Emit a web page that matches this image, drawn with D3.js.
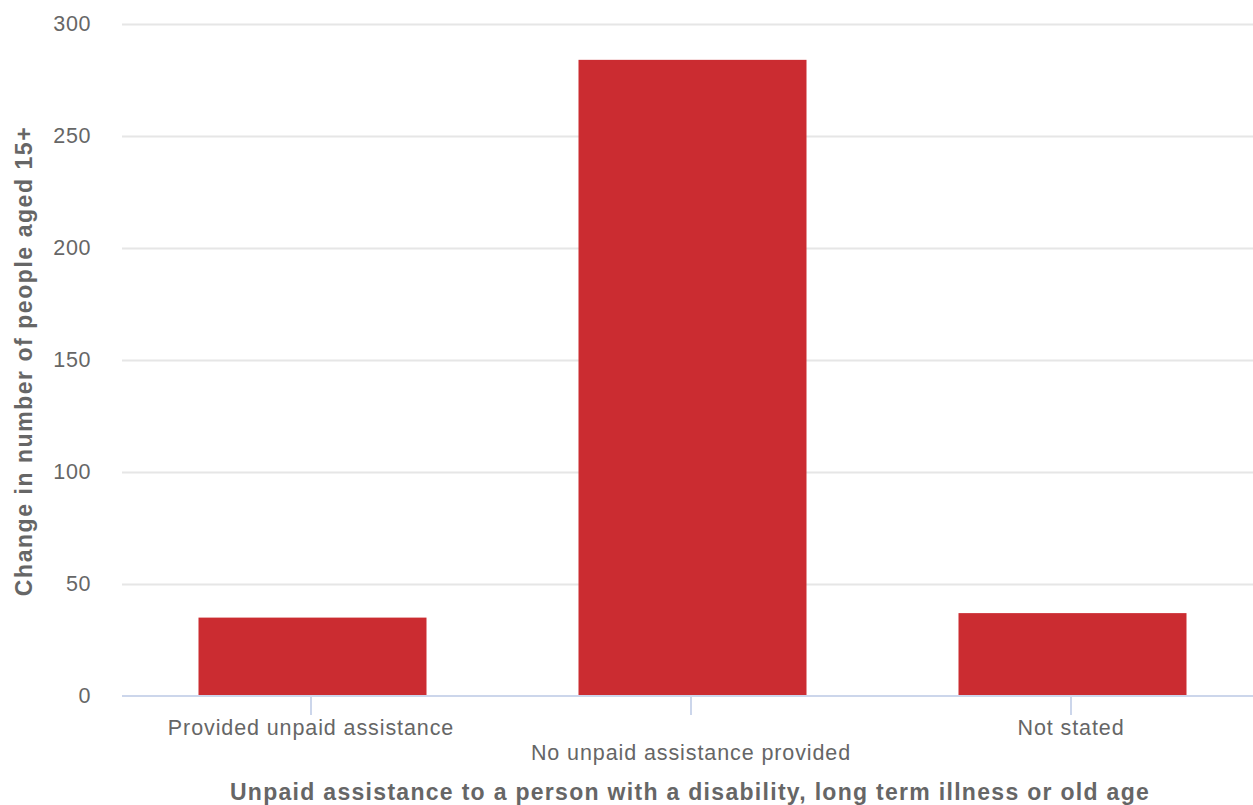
<!DOCTYPE html>
<html><head><meta charset="utf-8">
<script src="https://cdn.jsdelivr.net/npm/d3@7"></script>
<style>
html,body{margin:0;padding:0;background:#fff;}
svg{display:block;font-family:"Liberation Sans",Arial,sans-serif;}
</style></head>
<body><svg id="c" width="1253" height="805"></svg>
<script>
const categories = ["Provided unpaid assistance","No unpaid assistance provided","Not stated"];
const values = [35, 284, 37];
const yTicks = [0,50,100,150,200,250,300];
const xTitle = "Unpaid assistance to a person with a disability, long term illness or old age";
const yTitle = "Change in number of people aged 15+";

(function(){
const svg = d3.select("#c");
const mLeft = 122.5, mRight = 1262.5, mTop = 24, mBottom = 696;
const x = d3.scaleBand().domain(categories).range([mLeft, mRight]).paddingInner(0.4).paddingOuter(0.2);
const y = d3.scaleLinear().domain([0,300]).range([mBottom, mTop]);

// y axis: gridlines + labels
const yAxis = svg.append("g").attr("transform","translate(122,0)")
  .call(d3.axisLeft(y).tickValues(yTicks).tickSize(-1131).tickPadding(31).tickFormat(d3.format("d")));
yAxis.select(".domain").remove();
yAxis.selectAll(".tick line").attr("stroke","#e6e6e6").attr("stroke-width",2)
  .filter(d=>d===0).remove();
yAxis.selectAll(".tick text").attr("font-size",21.5).attr("fill","#666")
  .attr("letter-spacing","0.6px")
  .attr("font-family","Liberation Sans, Arial, sans-serif");

// bars
svg.append("g").selectAll("rect").data(values).join("rect")
  .attr("x",(d,i)=>x(categories[i])).attr("width", x.bandwidth())
  .attr("y", d=>y(d)).attr("height", d=>y(0)-y(d))
  .attr("fill","#cb2c31");

// x axis
const xAxis = svg.append("g").attr("transform",`translate(-1.5,${mBottom})`)
  .call(d3.axisBottom(x).tickSize(19).tickSizeOuter(0).tickPadding(10));
xAxis.select(".domain").remove();
xAxis.selectAll(".tick line").attr("stroke","#ccd6eb").attr("stroke-width",2);
xAxis.selectAll(".tick text").attr("font-size",21.5).attr("fill","#666")
  .attr("letter-spacing","0.9px")
  .attr("font-family","Liberation Sans, Arial, sans-serif")
  .attr("y",(d,i)=> i%2===0 ? 38.5 : 64).attr("dy",0);
svg.append("line").attr("x1",122).attr("x2",1253).attr("y1",mBottom).attr("y2",mBottom)
  .attr("stroke","#ccd6eb").attr("stroke-width",2);

// x title
svg.append("text").attr("x", 690).attr("y", 800)
  .attr("text-anchor","middle").attr("font-size",23).attr("font-weight","bold").attr("fill","#666")
  .attr("letter-spacing","1.3px")
  .text(xTitle);

// y title
svg.append("text").attr("transform","translate(32,361) rotate(-90)")
  .attr("text-anchor","middle").attr("font-size",23).attr("font-weight","bold").attr("fill","#666")
  .attr("letter-spacing","1.55px")
  .text(yTitle);
})();
</script></body></html>
